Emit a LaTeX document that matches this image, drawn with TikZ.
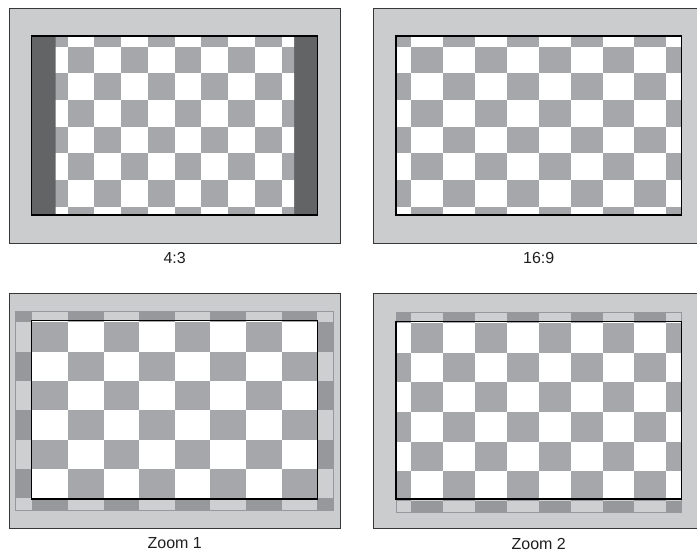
\documentclass[tikz,border=0pt]{standalone}
\usepackage{fontspec}
\setmainfont{Liberation Sans}
\usepackage{xcolor}
\usepackage{tikz}

\definecolor{bezel}{RGB}{203,204,206}
\definecolor{checkgray}{RGB}{166,167,170}
\definecolor{bargray}{RGB}{99,100,102}
\definecolor{outgray}{RGB}{151,152,155}
\definecolor{outlight}{RGB}{206,207,209}
\definecolor{framegray}{RGB}{55,55,55}

% checkerboard: centre x, centre y, cell width, cell height, dark colour, light colour
\newcommand{\chessgrid}[6]{%
  \foreach \i in {-1,...,8}
    \foreach \j in {-1,...,6} {
      \pgfmathtruncatemacro{\tone}{mod(\i+\j+2,2)}
      \ifnum\tone=0 \def\cellcol{#5}\else \def\cellcol{#6}\fi
      \fill[\cellcol] ({#1+(\i-4)*#3},{#2+(\j-3)*#4}) rectangle ++(#3,#4);
    }%
}

\begin{document}
\begin{tikzpicture}[
  x=1pt, y=-1pt,
  every node/.style={inner sep=0pt},
  tvframe/.style={rectangle, draw=framegray, line width=0.9pt, fill=bezel,
                  minimum width=330.5pt, minimum height=235.5pt},
  screenline/.style={draw=black, line width=1.3pt},
  spill/.style={draw=outgray, line width=0.5pt},
  caption/.style={font=\fontsize{16}{18}\selectfont, text=black!88},
]
\path[use as bounding box, clip] (0,0) rectangle (697,553);
% Top left: 4:3
\begin{scope}
  \node[tvframe] (tv43) at (174.7,126.2) {};
  \fill[bargray] (31.7,36) rectangle (317.7,215);
  \begin{scope}
    \clip (55.7,36) rectangle (294,215);
    \chessgrid{174.67}{126.67}{26.75}{26.67}{checkgray}{white}
  \end{scope}
  \draw[screenline] (31.7,36) rectangle (317.7,215);
  \node[caption] (cap43) at (174.7,258) {4:3};
\end{scope}
% Top right: 16:9
\begin{scope}
  \node[tvframe] (tv169) at (538.7,126.2) {};
  \begin{scope}
    \clip (396,36) rectangle (681.3,215);
    \chessgrid{538.67}{126.67}{31.92}{26.67}{checkgray}{white}
  \end{scope}
  \draw[screenline] (396,36) rectangle (681.3,215);
  \node[caption] (cap169) at (538.7,258) {16:9};
\end{scope}
% Bottom left: Zoom 1
\begin{scope}
  \node[tvframe] (tvz1) at (174.7,410.8) {};
  \begin{scope}
    \clip (15.7,311.7) rectangle (333.7,510);
    \chessgrid{174.83}{410.33}{35.63}{29.33}{outgray}{outlight}
  \end{scope}
  \draw[spill] (15.7,311.7) rectangle (333.7,510);
  \begin{scope}
    \clip (31.7,320.7) rectangle (317.3,499);
    \chessgrid{174.83}{410.33}{35.63}{29.33}{checkgray}{white}
  \end{scope}
  \draw[screenline] (31.7,320.7) rectangle (317.3,499);
  \node[caption] (capz1) at (174.7,543.5) {Zoom 1};
\end{scope}
% Bottom right: Zoom 2
\begin{scope}
  \node[tvframe] (tvz2) at (538.7,410.8) {};
  \begin{scope}
    \clip (396,312.3) rectangle (681.3,512.7);
    \chessgrid{538.67}{412}{31.92}{29.56}{outgray}{outlight}
  \end{scope}
  \draw[spill] (396,312.3) rectangle (681.3,512.7);
  \begin{scope}
    \clip (396,321.7) rectangle (681.3,499);
    \chessgrid{538.67}{412}{31.92}{29.56}{checkgray}{white}
  \end{scope}
  \draw[screenline] (396,321.7) rectangle (681.3,499);
  \node[caption] (capz2) at (538.7,543.5) {Zoom 2};
\end{scope}
\end{tikzpicture}
\end{document}
